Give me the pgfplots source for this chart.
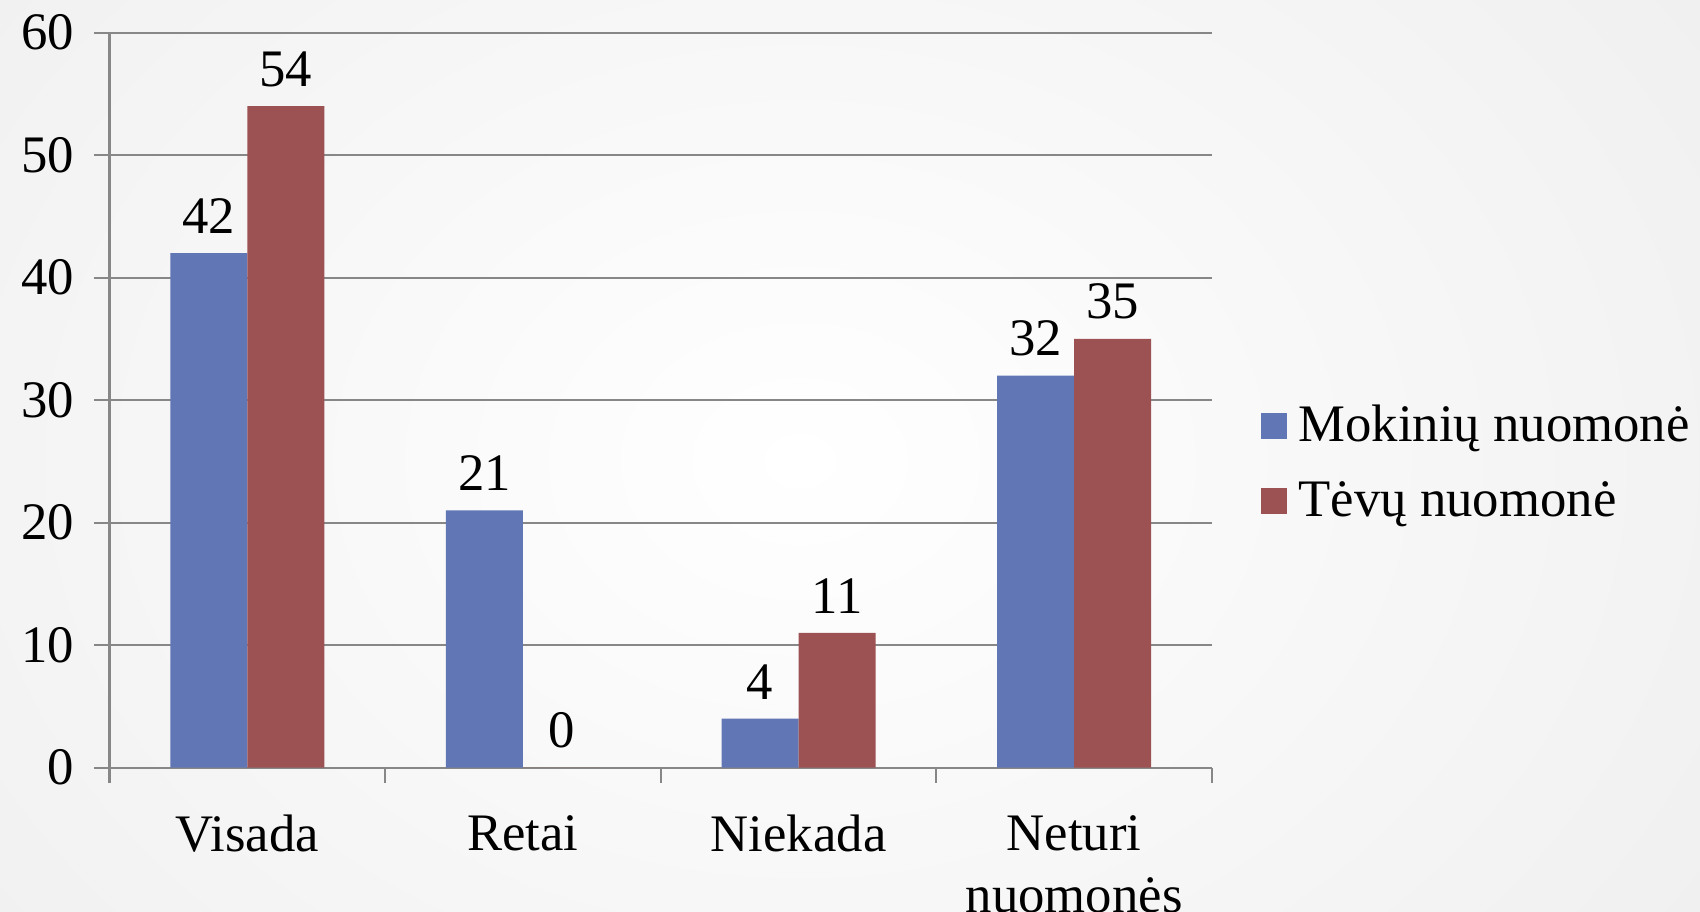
\documentclass[border=0pt]{standalone}
\usepackage{fontspec}
\setmainfont{Liberation Serif}
\usepackage{pgfplots}
\pgfplotsset{compat=1.18}

\definecolor{barblue}{HTML}{6177B5}
\definecolor{barred}{HTML}{9C5153}
\definecolor{axgray}{HTML}{878787}

\newcommand{\chartfont}{\fontsize{15}{17.8}\selectfont}

\begin{document}
\begin{tikzpicture}
  % light radial background, picture is 17cm x 9.11cm
  \shade[inner color=white, outer color=black!6] (-3cm,-4cm) rectangle (19cm,13cm);

  \begin{axis}[
      at={(1.095cm,1.434cm)}, anchor=south west,
      scale only axis,
      width=11.025cm, height=7.35cm,
      font=\chartfont,
      /pgf/number format/assume math mode=true,
      ybar=0pt, bar width=0.77cm,
      xmin=-0.5, xmax=3.5,
      ymin=0, ymax=60,
      ytick={0,10,...,60},
      xtick={-0.5,0.5,1.5,2.5,3.5},
      x tick label as interval,
      xticklabels={Visada,Retai,Niekada,{Neturi\\nuomonės}},
      xticklabel style={align=center, anchor=north, inner sep=0pt, yshift=-0.32cm},
      yticklabel style={anchor=east, inner sep=0pt, xshift=-0.20cm},
      axis x line*=bottom, axis y line*=left,
      axis line style={draw=axgray, line width=0.6pt, -},
      tick style={draw=axgray, line width=0.6pt},
      tick align=outside,
      major tick length=0.15cm,
      ymajorgrids, grid style={draw=axgray, line width=0.6pt},
      nodes near coords,
      nodes near coords style={font=\chartfont, text=black, yshift=2pt},
      legend style={draw=none, fill=none, at={(1.034,0.414)}, anchor=west,
                    font=\chartfont, row sep=0.2cm,
                    nodes={inner xsep=0.12cm}},
      legend cell align=left,
      legend image code/.code={\fill[#1] (0cm,-0.13cm) rectangle (0.26cm,0.13cm);},
      clip=false,
    ]
    \addplot[fill=barblue, draw=none] coordinates {(0,42) (1,21) (2,4) (3,32)};
    \addlegendentry{Mokinių nuomonė}
    \addplot[fill=barred, draw=none] coordinates {(0,54) (1,0) (2,11) (3,35)};
    \addlegendentry{Tėvų nuomonė}
  \end{axis}

  \pgfresetboundingbox
  \path[use as bounding box] (0,0) rectangle (17cm,9.11cm);
\end{tikzpicture}
\end{document}
